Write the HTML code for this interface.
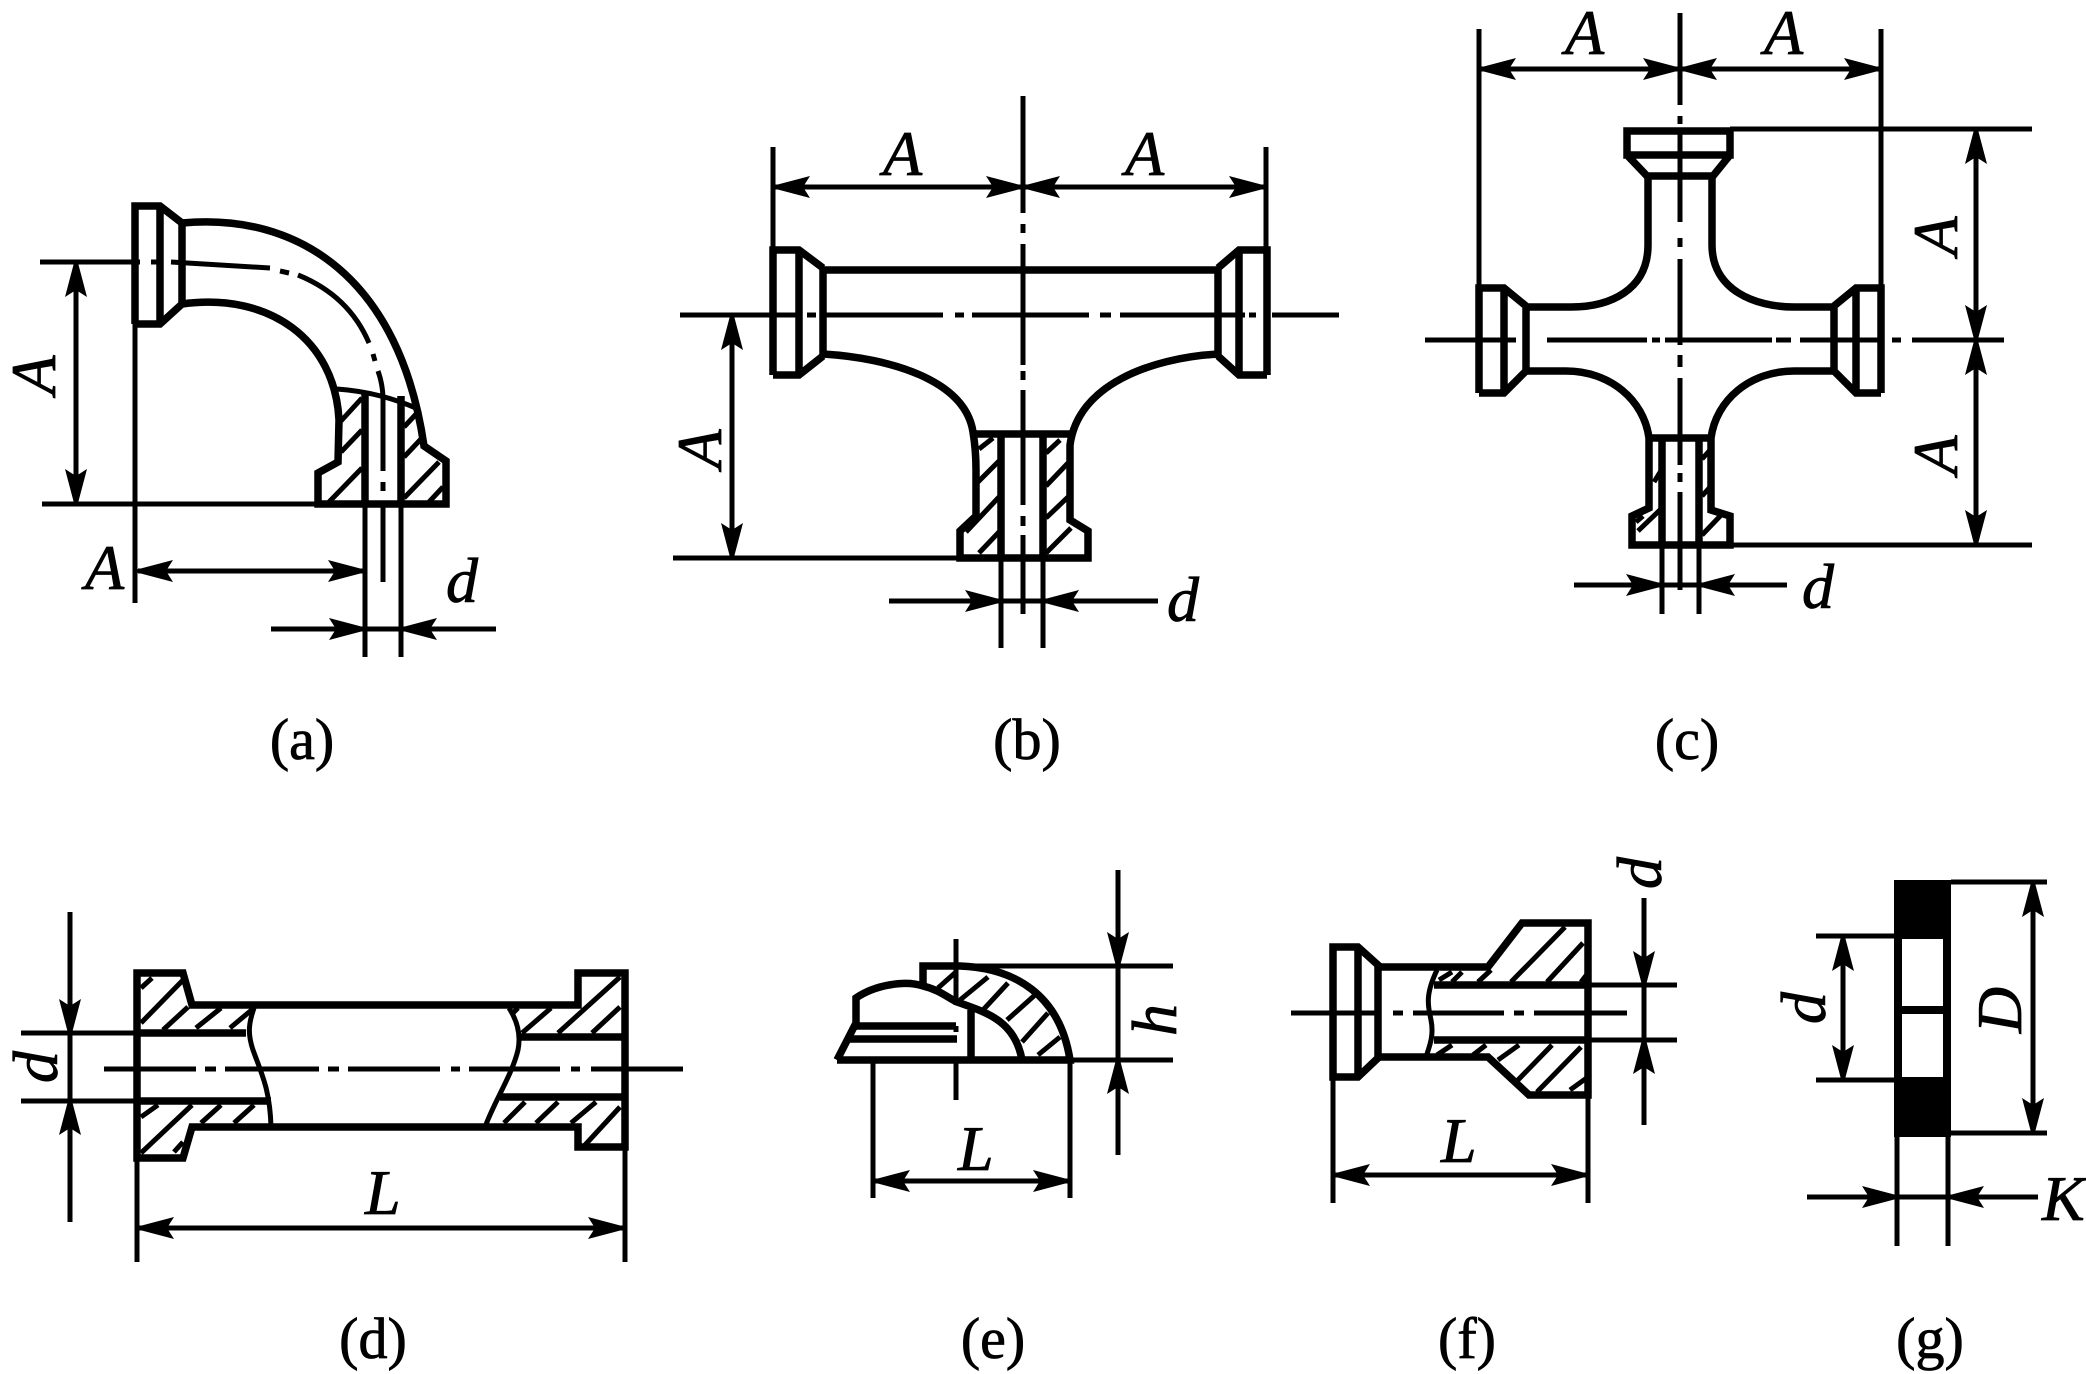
<!DOCTYPE html>
<html><head><meta charset="utf-8"><title>Pipe fittings</title>
<style>
html,body{margin:0;padding:0;background:#fff}
svg{display:block}
.t{fill:none;stroke:#000;stroke-width:7.5;stroke-linejoin:miter}
.n{fill:none;stroke:#000;stroke-width:5}
.a{fill:none;stroke:#000;stroke-width:5;marker-end:url(#m)}
.b{fill:none;stroke:#000;stroke-width:5;marker-end:url(#m);marker-start:url(#m)}
text{font-family:"Liberation Serif",serif;fill:#000;stroke:#000;stroke-width:.8}
.i{font-style:italic;font-size:64px}
.c{font-size:58px;text-anchor:middle}
</style></head><body>
<svg xmlns="http://www.w3.org/2000/svg" width="2086" height="1374" viewBox="0 0 2086 1374">
<defs><marker id="m" markerUnits="userSpaceOnUse" markerWidth="38" markerHeight="22" refX="35" refY="11" orient="auto-start-reverse"><path d="M0 0L36 9.5V12.5L0 22L7 11z" fill="#000"/></marker></defs>
<rect width="2086" height="1374" fill="#fff"/>

<!-- (a) -->
<g>
<path class="t" d="M135 324V206H160L182 223M135 324H160L182 304M160 206V324M182 223V304"/>
<path class="t" d="M182 223C300 212 400 280 424 446L446 461V504H318V473L338 462L339 420C335 340 270 292 182 304"/>
<path class="n" d="M337 389Q380 392 418 409"/>
<path class="t" d="M365 393V504M401 396V504"/>
<path class="n" d="M365 504V657M401 504V657M135 324V603M42 504H320M40 262H140M151 262H158M171 262L270 268M280 271L289 273M298 275C330 288 355 310 369 343M373 354L375 361M378 371Q383 385 383 400V471M383 482V491M383 507V582"/>
<path class="n" d="M341 421L362 398M341 452L362 430M329 502L362 468M404 427L418 412M404 457L421 439M404 498L439 462M429 502L443 487"/>
<line class="b" x1="76" y1="262" x2="76" y2="504"/>
<line class="b" x1="138" y1="571" x2="363" y2="571"/>
<line class="a" x1="271" y1="629" x2="364" y2="629"/>
<line class="a" x1="496" y1="629" x2="402" y2="629"/>
<line class="n" x1="365" y1="629" x2="401" y2="629"/>
<text class="i" x="85" y="589">A</text>
<text class="i" x="446" y="602">d</text>
<text class="i" transform="translate(34,375) rotate(-90)" y="21" text-anchor="middle">A</text>
</g>

<!-- (b) -->
<g>
<path class="t" d="M773 375V250H799L823 268M773 375H799L823 356M799 250V375M823 268V356M1267 375V250H1239L1218 268M1267 375H1239L1218 356M1239 250V375M1218 268V356"/>
<path class="t" d="M823 270H1218"/>
<path class="t" d="M823 354C890 358 965 380 973 432Q976 450 976 470V516L960 531V558H1088V531L1070 520V445C1078 385 1150 358 1218 354"/>
<path class="t" d="M975 434H1072M1001 434V558M1043 434V558"/>
<path class="n" d="M1001 558V648M1043 558V648M773 147V250M1266 147V250M673 558H960M1023 96V213M1023 224V233M1023 244V365M1023 371V380M1023 390V505M1023 516V526M1023 535V614"/>
<path class="n" d="M680 315H799M807 315H816M825 315H943M955 315H964M972 315H1089M1100 315H1111M1120 315H1245M1249 315H1256M1272 315H1339"/>
<path class="n" d="M979 449L993 438M978 482L999 461M966 532L999 497M979 553L999 532M1046 453L1060 440M1046 486L1068 463M1046 518L1068 497M1046 553L1071 528"/>
<line class="b" x1="775" y1="187" x2="1021" y2="187"/>
<line class="b" x1="1025" y1="187" x2="1264" y2="187"/>
<line class="b" x1="732" y1="315" x2="732" y2="558"/>
<line class="a" x1="889" y1="601" x2="1000" y2="601"/>
<line class="a" x1="1158" y1="601" x2="1044" y2="601"/>
<line class="n" x1="1001" y1="601" x2="1043" y2="601"/>
<text class="i" x="883" y="175">A</text>
<text class="i" x="1125" y="175">A</text>
<text class="i" x="1167" y="621">d</text>
<text class="i" transform="translate(700,449) rotate(-90)" y="21" text-anchor="middle">A</text>
</g>

<!-- (c) -->
<g>
<path class="t" d="M1479 393V288H1504L1526 306M1479 393H1504L1526 371M1504 288V393M1526 306V371M1881 393V288H1856L1834 306M1881 393H1856L1834 371M1856 288V393M1834 306V371"/>
<path class="t" d="M1627 155V131H1730V155ZM1627 155L1647 176H1713L1730 155"/>
<path class="t" d="M1526 307H1571C1610 307 1648 290 1648 245V176M1712 176V245C1712 290 1755 307 1794 307H1834"/>
<path class="t" d="M1526 371H1566C1610 371 1644 400 1649 438V508L1632 516V545H1730V516L1711 510V438C1716 400 1750 371 1794 371H1834"/>
<path class="t" d="M1648 438H1712M1662 438V545M1699 438V545"/>
<path class="n" d="M1662 545V614M1699 545V614M1479 29V288M1881 29V288M1730 129H2032M1730 545H2032"/>
<path class="n" d="M1680 13V105M1680 116V124M1680 131V222M1680 238V247M1680 259V345M1680 355V367M1680 378V465M1680 473V482M1680 492V590"/>
<path class="n" d="M1425 340H1516M1547 340H1647M1652 340H1660M1665 340H1772M1776 340H1791M1800 340H1881M1892 340H1901M1912 340H2004"/>
<path class="n" d="M1654 482L1662 469M1638 531L1662 508M1636 522L1643 516M1702 459L1711 449M1702 496L1711 486M1702 535L1724 512"/>
<line class="b" x1="1481" y1="69" x2="1678" y2="69"/>
<line class="b" x1="1682" y1="69" x2="1879" y2="69"/>
<line class="b" x1="1976" y1="129" x2="1976" y2="340"/>
<line class="b" x1="1976" y1="340" x2="1976" y2="545"/>
<line class="a" x1="1574" y1="585" x2="1661" y2="585"/>
<line class="a" x1="1787" y1="585" x2="1700" y2="585"/>
<line class="n" x1="1662" y1="585" x2="1699" y2="585"/>
<text class="i" x="1565" y="54">A</text>
<text class="i" x="1764" y="54">A</text>
<text class="i" x="1802" y="608">d</text>
<text class="i" transform="translate(1936,236) rotate(-90)" y="21" text-anchor="middle">A</text>
<text class="i" transform="translate(1936,455) rotate(-90)" y="21" text-anchor="middle">A</text>
</g>

<!-- (d) -->
<g>
<path class="t" d="M137 973H183L192 1005H578V973H625V1147H578V1127H192L183 1158H137Z"/>
<path class="t" d="M137 1033H246M137 1101H271M520 1037H625M500 1097H625"/>
<path class="n" d="M254 1008C248 1025 248 1035 253 1050C262 1075 270 1090 271 1127M509 1008C520 1025 520 1040 518 1050C512 1075 495 1100 485 1127"/>
<path class="n" d="M21 1033H137M21 1101H137M137 1158V1262M625 1147V1262M70 1033V1101"/>
<path class="n" d="M104 1069H196M205 1069H216M225 1069H319M328 1069H339M348 1069H440M451 1069H460M469 1069H560M571 1069H580M591 1069H683"/>
<path class="n" d="M141 988L152 978M141 1023L185 978M163 1030L188 1007M196 1028L221 1008M230 1028L254 1008M141 1117L158 1105M141 1153L192 1105M174 1152L183 1142M201 1123L221 1105M234 1123L254 1105M513 1013L518 1008M522 1033L551 1008M558 1033L620 977M592 1033L620 1007M504 1123L525 1102M536 1123L558 1102M571 1123L596 1102M585 1145L620 1107"/>
<line class="a" x1="70" y1="912" x2="70" y2="1034"/>
<line class="a" x1="70" y1="1222" x2="70" y2="1100"/>
<line class="b" x1="139" y1="1228" x2="623" y2="1228"/>
<text class="i" x="365" y="1214">L</text>
<text class="i" transform="translate(36,1067) rotate(-90)" y="21" text-anchor="middle">d</text>
</g>

<!-- (e) -->
<g>
<path class="t" d="M837 1060H1070C1060 995 1015 968 960 966H923V987"/>
<path class="t" d="M837 1060L856 1023V998C875 985 905 980 923 986C940 990 948 998 957 1002C985 1012 1015 1020 1022 1060"/>
<path class="t" d="M856 1026H956M850 1039H957M971 1010V1060"/>
<path class="n" d="M956 939V1005M956 1026V1032M956 1060V1100M873 1060V1198M1070 1060V1198M1070 1060H1173M960 966H1173M1118 966V1060"/>
<path class="n" d="M938 988L956 972M960 1000L988 977M983 1010L1008 983M1007 1020L1035 995M1022 1042L1048 1013M1038 1055L1060 1037"/>
<line class="a" x1="1118" y1="870" x2="1118" y2="967"/>
<line class="a" x1="1118" y1="1155" x2="1118" y2="1059"/>
<line class="b" x1="875" y1="1181" x2="1068" y2="1181"/>
<text class="i" x="958" y="1170">L</text>
<text class="i" transform="translate(1155,1020) rotate(-90)" y="21" text-anchor="middle">h</text>
</g>

<!-- (f) -->
<g>
<path class="t" d="M1333 1077V947H1358L1378 965V1058L1358 1077ZM1358 947V1077"/>
<path class="t" d="M1378 967H1488L1522 923H1588V1095H1529L1488 1057H1378"/>
<path class="t" d="M1434 985H1588M1434 1040H1588"/>
<path class="n" d="M1437 970C1425 995 1428 1005 1431 1020C1434 1035 1430 1045 1426 1057"/>
<path class="n" d="M1588 985H1677M1588 1040H1677M1333 1077V1203M1588 1095V1203M1644 985V1040"/>
<path class="n" d="M1291 1013H1378M1393 1013H1403M1413 1013H1504M1514 1013H1524M1534 1013H1627"/>
<path class="n" d="M1439 980L1452 972M1452 982L1462 972M1478 982L1491 970M1511 982L1565 927M1547 982L1583 943M1581 982L1588 973M1437 1055L1452 1045M1473 1055L1486 1045M1498 1060L1519 1045M1516 1082L1552 1045M1537 1092L1581 1047M1570 1090L1588 1077"/>
<line class="a" x1="1644" y1="898" x2="1644" y2="986"/>
<line class="a" x1="1644" y1="1125" x2="1644" y2="1039"/>
<line class="b" x1="1335" y1="1175" x2="1586" y2="1175"/>
<text class="i" x="1441" y="1162">L</text>
<text class="i" transform="translate(1640,873) rotate(-90)" y="21" text-anchor="middle">d</text>
</g>

<!-- (g) -->
<g>
<rect x="1894" y="880" width="57" height="257" fill="#000"/>
<rect x="1902" y="939" width="41" height="138" fill="#fff"/>
<rect x="1902" y="1006" width="41" height="8" fill="#000"/>
<path class="n" d="M1951 882H2047M1951 1133H2047M1816 936H1894M1816 1080H1894M1897 1137V1246M1948 1137V1246M1897 1197H1948"/>
<line class="b" x1="2033" y1="882" x2="2033" y2="1133"/>
<line class="b" x1="1843" y1="936" x2="1843" y2="1080"/>
<line class="a" x1="1807" y1="1197" x2="1897" y2="1197"/>
<line class="a" x1="2038" y1="1197" x2="1949" y2="1197"/>
<text class="i" x="2042" y="1220">K</text>
<text class="i" transform="translate(2000,1010) rotate(-90)" y="21" text-anchor="middle">D</text>
<text class="i" transform="translate(1804,1008) rotate(-90)" y="21" text-anchor="middle">d</text>
</g>

<text class="c" x="302" y="759">(a)</text>
<text class="c" x="1027" y="759">(b)</text>
<text class="c" x="1687" y="759">(c)</text>
<text class="c" x="373" y="1358">(d)</text>
<text class="c" x="993" y="1358">(e)</text>
<text class="c" x="1467" y="1358">(f)</text>
<text class="c" x="1930" y="1358">(g)</text>
</svg>
</body></html>
